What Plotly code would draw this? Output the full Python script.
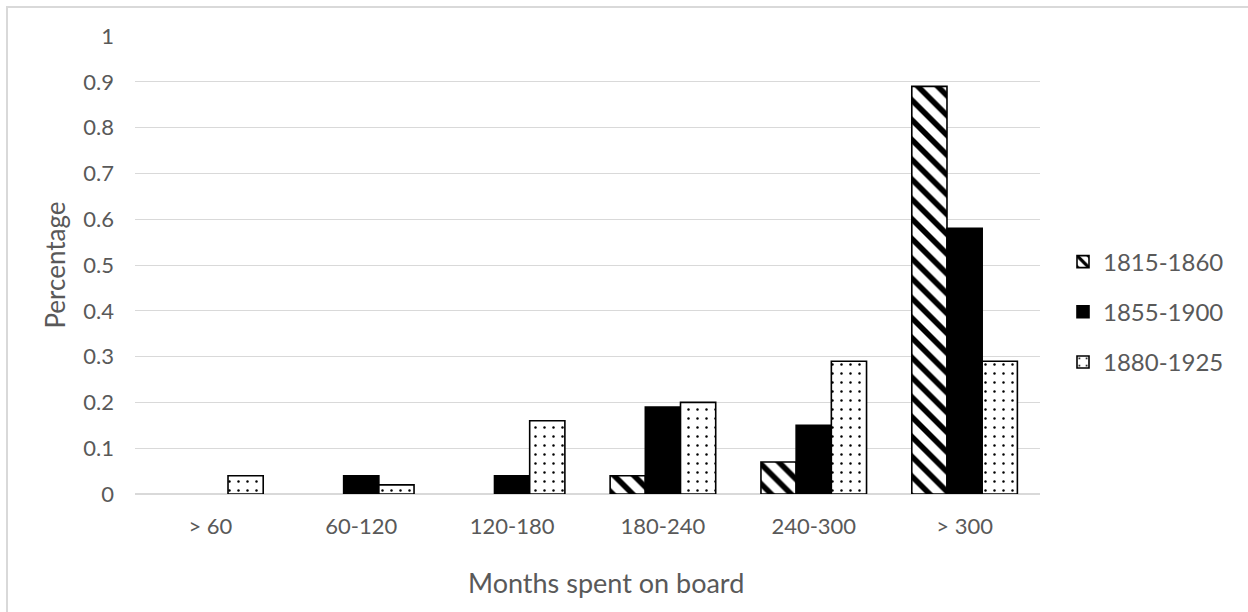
import plotly.graph_objects as go

# Tenure bands (months on board) and share of crew in each band, per cohort
categories = ["> 60", "60-120", "120-180", "180-240", "240-300", "> 300"]
cohorts = ["1815-1860", "1855-1900", "1880-1925"]
share_1815_1860 = [0, 0, 0, 0.04, 0.07, 0.89]
share_1855_1900 = [0, 0.04, 0.04, 0.19, 0.15, 0.58]
share_1880_1925 = [0.04, 0.02, 0.16, 0.20, 0.29, 0.29]
y_ticks = [0, 0.1, 0.2, 0.3, 0.4, 0.5, 0.6, 0.7, 0.8, 0.9, 1]

W, H = 1248, 612
ML, MR, MT, MB = 135, 208, 36, 118
PW, PH = W - ML - MR, H - MT - MB

FONT = "Lato, Carlito, 'Open Sans', sans-serif"
GREY_TXT = "#595959"
GRID = "#d9d9d9"


def px_x(p):
    return (p - ML) / PW


def px_y(p):
    return (H - MB - p) / PH


def nz(vals):
    # empty bands are not drawn at all
    return [v if v else None for v in vals]


styles = [
    dict(color="white", pattern=dict(shape="\\", fgcolor="black", bgcolor="white",
                                     size=14, solidity=0.4, fillmode="replace")),
    dict(color="black"),
    dict(color="white", pattern=dict(shape=".", fgcolor="black", bgcolor="white",
                                     size=9, solidity=0.06, fillmode="replace")),
]

fig = go.Figure()
for name, vals, st in zip(cohorts, [share_1815_1860, share_1855_1900, share_1880_1925], styles):
    fig.add_trace(go.Bar(
        x=categories, y=nz(vals), name=name, legendgroup=name,
        marker=dict(line=dict(color="black", width=1.6), **st),
        hoverinfo="x+y+name",
    ))

fig.update_layout(
    width=W, height=H,
    margin=dict(l=ML, r=MR, t=MT, b=MB, autoexpand=False),
    paper_bgcolor="white", plot_bgcolor="white",
    barmode="group", bargap=0.30, bargroupgap=0,
    font=dict(family=FONT, color=GREY_TXT, size=22),
    showlegend=True,
    legend=dict(
        x=px_x(1063), xanchor="left", y=px_y(312), yanchor="middle",
        font=dict(size=24, color=GREY_TXT, family=FONT),
        tracegroupgap=16, bgcolor="rgba(0,0,0,0)",
    ),
    xaxis=dict(
        type="category", showgrid=False, showline=False, ticks="",
        tickfont=dict(size=22), ticklabelstandoff=17,
        automargin=False,
    ),
    yaxis=dict(
        range=[0, 1], tickvals=y_ticks, ticktext=[f"{v:g}" for v in y_ticks],
        showgrid=True, gridcolor=GRID, gridwidth=1.3,
        zeroline=True, zerolinecolor=GRID, zerolinewidth=1.5,
        showline=False, ticks="", tickfont=dict(size=22), ticklabelstandoff=20,
        title=dict(text="Percentage", font=dict(size=26), standoff=10),
        automargin=False,
    ),
    annotations=[dict(
        text="Months spent on board", xref="paper", yref="paper",
        x=px_x(606), y=px_y(582), xanchor="center", yanchor="middle",
        showarrow=False, font=dict(size=27, color=GREY_TXT, family=FONT),
    )],
    shapes=[dict(
        type="rect", xref="paper", yref="paper",
        x0=px_x(7), x1=px_x(W + 5), y0=px_y(H + 5), y1=px_y(7),
        line=dict(color=GRID, width=2), fillcolor="rgba(0,0,0,0)", layer="below",
    )],
)

fig.write_html("out.html")
